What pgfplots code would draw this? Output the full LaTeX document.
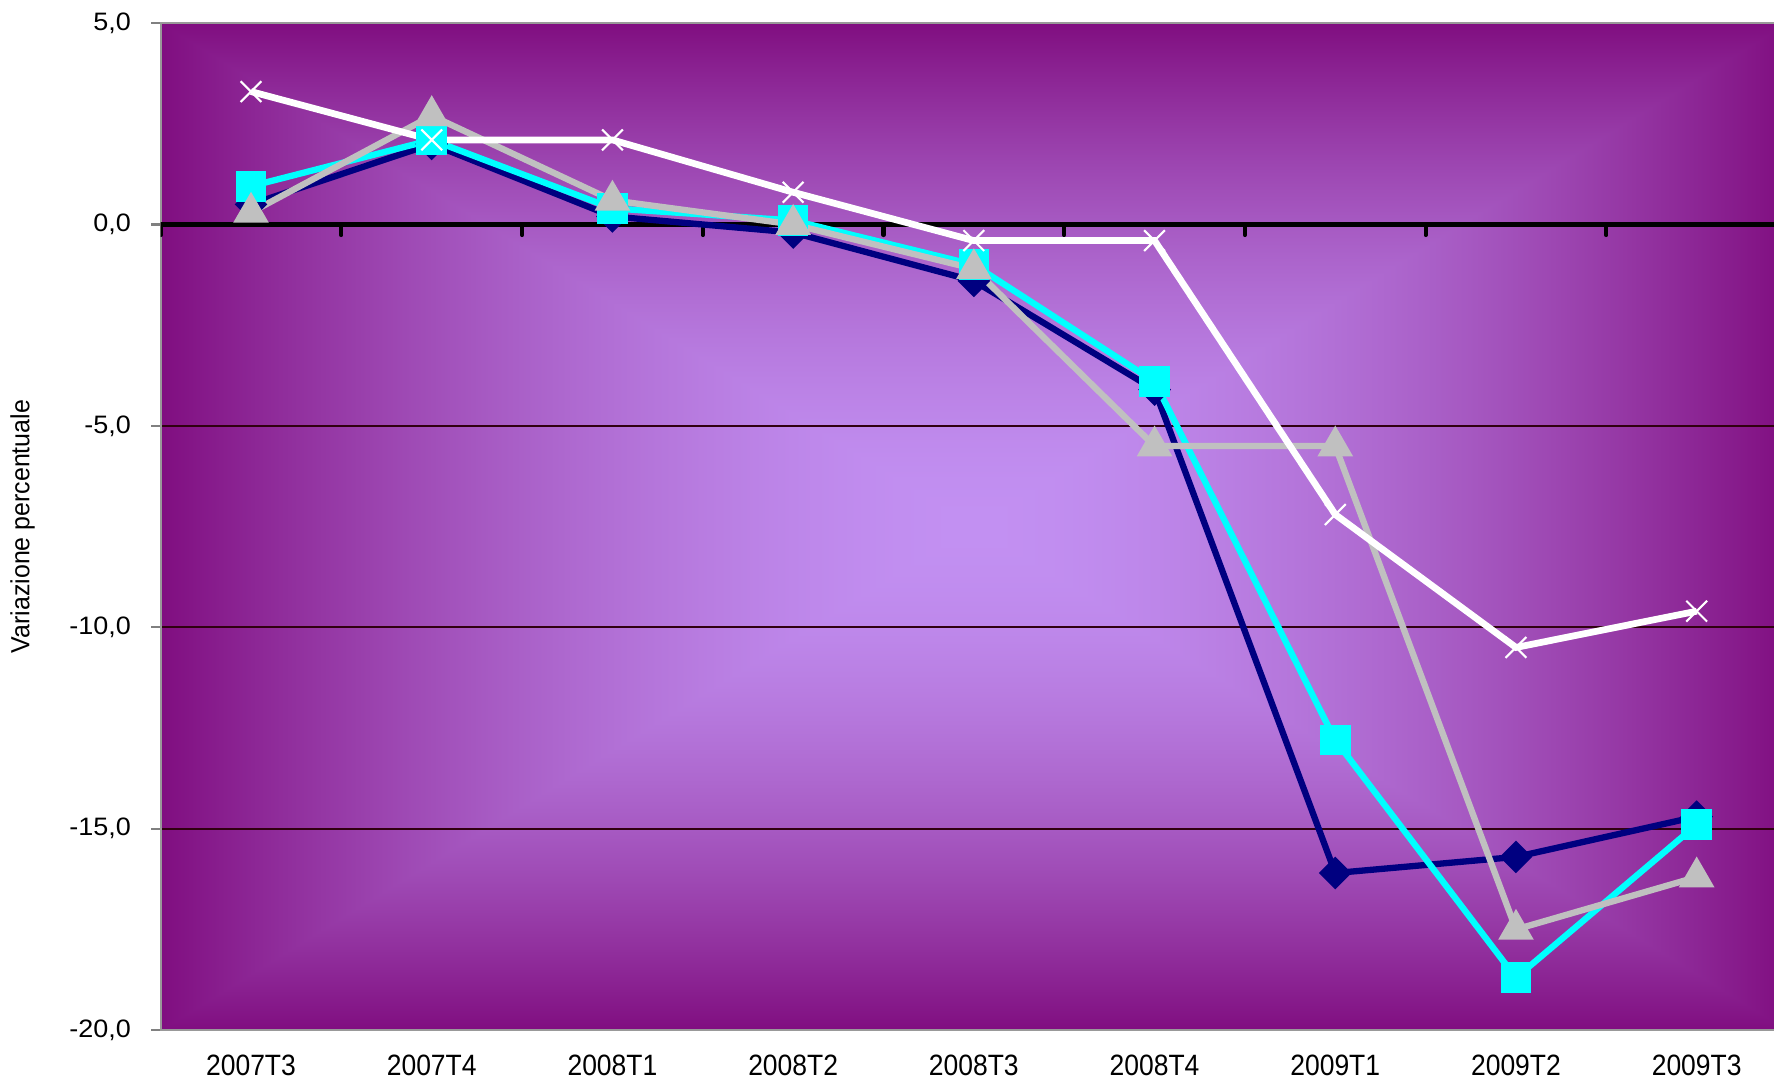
\documentclass[border=0pt]{standalone}
\usepackage{fontspec}
\setmainfont{Liberation Sans}
\newfontfamily\xfont[FakeStretch=0.9]{Liberation Sans}
\newfontfamily\yfont[FakeStretch=1.07]{Liberation Sans}
\newfontfamily\lfont[FakeStretch=0.95]{Liberation Sans}
\usepackage{pgfplots}
\pgfplotsset{compat=1.18}

\definecolor{sernavy}{RGB}{0,0,128}
\definecolor{sercyan}{RGB}{0,255,255}
\definecolor{sergray}{RGB}{192,192,192}

% rectangular "from centre" gradient, light lavender -> purple
% (tikz maps the path onto the inner 50bp square)
\pgfdeclarefunctionalshading{rectbg}{\pgfpoint{-50bp}{-50bp}}{\pgfpoint{50bp}{50bp}}{}{
abs exch abs 2 copy lt {exch} if pop 25 div dup 1 gt {pop 1} if 1.7 exp
dup -0.259 mul 0.761 add exch
dup -0.510 mul 0.565 add exch
-0.447 mul 0.949 add
}

\begin{document}
\begin{tikzpicture}
\begin{axis}[
    name=ax,
    scale only axis,
    width=774.4pt,
    height=479.5pt,
    xmin=-0.5, xmax=8.5,
    ymin=-20, ymax=5,
    xtick={0,...,8},
    xticklabels={2007T3,2007T4,2008T1,2008T2,2008T3,2008T4,2009T1,2009T2,2009T3},
    ytick={-20,-15,-10,-5,0,5},
    yticklabels={{-20,0},{-15,0},{-10,0},{-5,0},{0,0},{5,0}},
    x tick style={draw=none},
    ytick pos=left,
    ytick align=outside,
    y tick style={gray, line width=1pt},
    major tick length=4.5pt,
    ymajorgrids=true,
    grid style={black!75!purple, line width=0.8pt},
    axis line style={gray!80, line width=1pt},
    axis background/.style={shading=rectbg},
    xticklabel style={font=\xfont\fontsize{14}{16}\selectfont, anchor=north, inner sep=0pt},
    xticklabel shift=11.5pt,
    yticklabel style={font=\yfont\fontsize{12}{14}\selectfont, anchor=east, inner sep=0pt},
    yticklabel shift=9.5pt,
    ylabel={Variazione percentuale},
    ylabel style={font=\lfont\fontsize{12.5}{14}\selectfont, at={(rel axis cs:0,0.5)}, anchor=center, yshift=65.7pt},
]
% zero line with category separators
\draw[black, line width=2.4pt] (axis cs:-0.5,0) -- (axis cs:8.5,0);
\pgfplotsinvokeforeach{-0.5,0.5,...,8.5}{
  \draw[black, line width=2pt, line cap=round] (axis cs:#1,0) -- ([yshift=-5pt]axis cs:#1,0);
}

\addplot[color=sernavy, line width=3pt, mark=square*, mark size=4.0pt,
  mark options={rotate=45}] coordinates {
  (0,0.5) (1,2.0) (2,0.2) (3,-0.2) (4,-1.4) (5,-4.1) (6,-16.1) (7,-15.7) (8,-14.7)
};
\addplot[color=sercyan, line width=3pt, mark=square*, mark size=5.8pt] coordinates {
  (0,0.95) (1,2.1) (2,0.4) (3,0.1) (4,-1.0) (5,-3.9) (6,-12.8) (7,-18.7) (8,-14.9)
};
\addplot[color=sergray, line width=3pt, mark=triangle*, mark size=6.8pt] coordinates {
  (0,0.3) (1,2.7) (2,0.6) (3,0.0) (4,-1.1) (5,-5.5) (6,-5.5) (7,-17.5) (8,-16.2)
};
\addplot[color=white, line width=3.2pt, mark=x, mark size=7pt,
  mark options={line width=1pt}] coordinates {
  (0,3.3) (1,2.1) (2,2.1) (3,0.8) (4,-0.4) (5,-0.4) (6,-7.2) (7,-10.5) (8,-9.6)
};
\end{axis}
\pgfresetboundingbox
\path[use as bounding box] ([shift={(-76.5pt,-25.2pt)}]ax.south west) rectangle ([shift={(-6.2pt,11pt)}]ax.north east);
\end{tikzpicture}
\end{document}
